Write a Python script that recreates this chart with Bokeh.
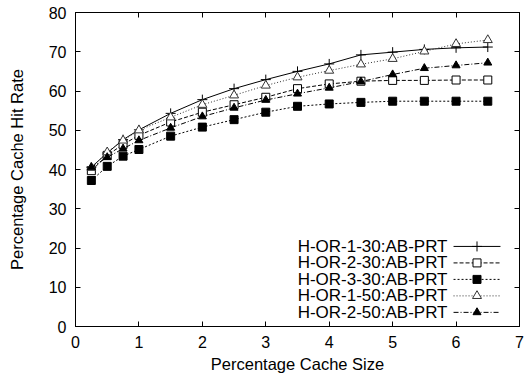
from bokeh.plotting import figure
from bokeh.models import LinearAxis, FixedTicker, Range1d, CustomJSTickFormatter
from bokeh.embed import file_html
from bokeh.resources import INLINE

# ---- data ----
cache_size = [0.25, 0.5, 0.75, 1, 1.5, 2, 2.5, 3, 3.5, 4, 4.5, 5, 5.5, 6, 6.5]
h_or_1_30 = [40.6, 44.2, 47.6, 50.1, 54.3, 57.8, 60.6, 62.9, 65.0, 66.9, 69.2, 69.9, 70.6, 71.0, 71.2]
h_or_2_30 = [39.7, 43.6, 46.4, 48.7, 52.1, 54.6, 56.5, 58.4, 60.6, 61.8, 62.5, 62.7, 62.7, 62.8, 62.8]
h_or_3_30 = [37.2, 40.8, 43.4, 45.1, 48.5, 50.8, 52.7, 54.6, 56.1, 56.7, 57.1, 57.4, 57.4, 57.4, 57.4]
h_or_1_50 = [40.5, 44.4, 47.4, 50.0, 53.3, 56.5, 58.9, 61.4, 63.5, 65.2, 66.8, 68.2, 70.1, 72.0, 73.0]
h_or_2_50 = [40.5, 43.1, 45.3, 47.4, 50.6, 53.5, 55.7, 57.7, 59.3, 60.8, 62.4, 64.2, 65.8, 66.5, 67.2]
series_names = ["H-OR-1-30:AB-PRT", "H-OR-2-30:AB-PRT", "H-OR-3-30:AB-PRT",
                "H-OR-1-50:AB-PRT", "H-OR-2-50:AB-PRT"]
x_ticks = [0, 1, 2, 3, 4, 5, 6, 7]
y_ticks = [0, 10, 20, 30, 40, 50, 60, 70, 80]

FONT = "Liberation Sans"
FS = "16px"

p = figure(width=525, height=376, output_backend="svg", toolbar_location=None,
           x_range=Range1d(0, 7), y_range=Range1d(0, 80),
           min_border_left=75, min_border_right=6, min_border_top=12, min_border_bottom=50)
p.xgrid.visible = False
p.ygrid.visible = False
p.outline_line_color = "black"
p.outline_line_width = 1
p.background_fill_color = "white"
p.border_fill_color = "white"

def style_axis(ax, ticks, show_labels):
    ax.ticker = FixedTicker(ticks=ticks)
    ax.major_tick_in = 5
    ax.major_tick_out = 0
    ax.minor_tick_line_color = None
    ax.axis_line_color = "black"
    ax.major_tick_line_color = "black"
    ax.major_label_text_font = FONT
    ax.major_label_text_font_size = FS
    ax.major_label_text_color = "black"
    if not show_labels:
        ax.formatter = CustomJSTickFormatter(code="return '';")
        ax.major_label_text_color = None
        ax.major_label_standoff = 0
    ax.axis_label_text_font = FONT
    ax.axis_label_text_font_size = "16.5px"
    ax.axis_label_text_font_style = "normal"
    ax.axis_label_text_color = "black"

style_axis(p.xaxis[0], x_ticks, True)
style_axis(p.yaxis[0], y_ticks, True)
p.xaxis[0].axis_label = "Percentage Cache Size"
p.yaxis[0].axis_label = "Percentage Cache Hit Rate"
p.xaxis[0].major_label_standoff = 9
p.xaxis[0].axis_label_standoff = 4
p.yaxis[0].major_label_standoff = 9
p.yaxis[0].axis_label_standoff = 20

top_ax = LinearAxis()
right_ax = LinearAxis()
style_axis(top_ax, x_ticks, False)
style_axis(right_ax, y_ticks, False)
p.add_layout(top_ax, "above")
p.add_layout(right_ax, "right")

styles = [
    dict(data=h_or_1_30, dash="solid", marker="cross", fill="black", color="black", size=10),
    dict(data=h_or_2_30, dash="4 2", marker="square", fill="white", color="black", size=8),
    dict(data=h_or_3_30, dash="2 2", marker="square", fill="black", color="black", size=8),
    dict(data=h_or_1_50, dash="1 2", marker="triangle", fill="white", color="#333333", size=9),
    dict(data=h_or_2_50, dash="5 2 1 2", marker="triangle", fill="black", color="black", size=8),
]

for s in styles:
    p.line(cache_size, s["data"], line_color=s["color"], line_width=1, line_dash=s["dash"])
    p.scatter(cache_size, s["data"], marker=s["marker"], size=s["size"],
              line_color=s["color"], fill_color=s["fill"], line_width=1)

# ---- manual gnuplot-style legend (text left, sample right) ----
leg_text_x = 5.865
leg_line_x0, leg_line_x1, leg_mark_x = 5.96, 6.70, 6.33
leg_y = [20.4, 16.2, 12.0, 7.8, 3.6]
p.text(x=[leg_text_x] * len(series_names), y=leg_y, text=series_names,
       text_align="right", text_baseline="middle", text_font_size="17px",
       text_font={"value": FONT}, text_color="black")
for s, yy in zip(styles, leg_y):
    p.line([leg_line_x0, leg_line_x1], [yy, yy], line_color=s["color"], line_width=1,
           line_dash=s["dash"])
    p.scatter([leg_mark_x], [yy], marker=s["marker"], size=s["size"],
              line_color=s["color"], fill_color=s["fill"], line_width=1)

open("out.html", "w").write(file_html(p, INLINE))
